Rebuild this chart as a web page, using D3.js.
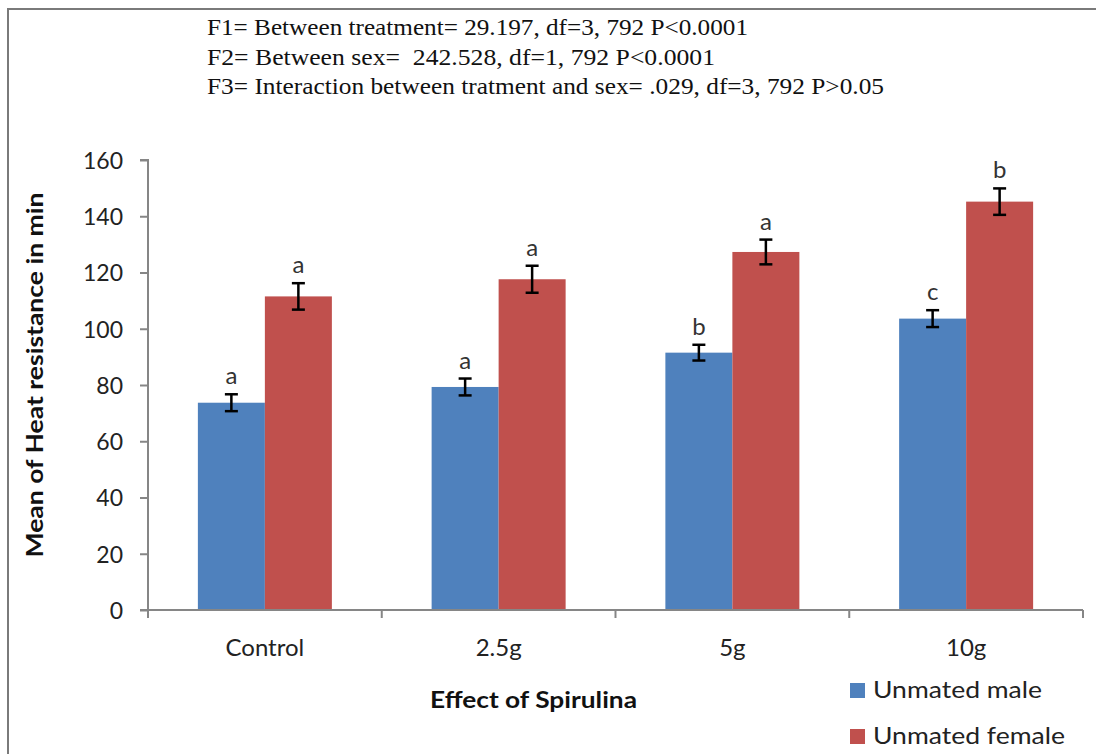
<!DOCTYPE html>
<html>
<head>
<meta charset="utf-8">
<script src="https://cdn.jsdelivr.net/npm/d3@7"></script>
<style>
  html, body { margin: 0; padding: 0; background: #fff; }
  svg { display: block; }
  .stat { white-space: pre; }
</style>
</head>
<body>
<svg id="chart" width="1096" height="754"></svg>
<script>
// ---- data ----
const categories = ["Control", "2.5g", "5g", "10g"];
const seriesNames = ["Unmated male", "Unmated female"];
const maleMeans = [73.7, 79.3, 91.5, 103.6];
const femaleMeans = [111.5, 117.6, 127.3, 145.2];
const maleErr = [3.0, 3.0, 2.8, 3.0];
const femaleErr = [4.7, 4.8, 4.4, 4.7];
const maleLetters = ["a", "a", "b", "c"];
const femaleLetters = ["a", "a", "a", "b"];
const yTicks = [0, 20, 40, 60, 80, 100, 120, 140, 160];
const statLines = [
  "F1= Between treatment= 29.197, df=3, 792 P<0.0001",
  "F2= Between sex=  242.528, df=1, 792 P<0.0001",
  "F3= Interaction between tratment and sex= .029, df=3, 792 P>0.05"
];
const statWidths = [541, 508, 677];
const colors = ["#4F81BD", "#C0504D"];

// ---- layout ----
const svg = d3.select("#chart");
const plotL = 148, plotR = 1083, plotT = 160, plotB = 610;
const sans = "Lato, 'Open Sans', sans-serif";

// border
svg.append("rect").attr("x", 8).attr("y", 9).attr("width", 1200).attr("height", 900)
  .attr("fill", "none").attr("stroke", "#7a7a7a").attr("stroke-width", 2);

// stats text
svg.append("g").selectAll("text").data(statLines).join("text")
  .attr("class", "stat")
  .attr("x", 207).attr("y", (d, i) => 35 + i * 29.5)
  .attr("font-family", "'Liberation Serif', 'Times New Roman', serif")
  .attr("font-size", 23).attr("fill", "#111")
  .attr("textLength", (d, i) => statWidths[i]).attr("lengthAdjust", "spacingAndGlyphs")
  .text(d => d);

const x = d3.scaleBand().domain(categories).range([plotL, plotR]).paddingInner(0).paddingOuter(0);
const y = d3.scaleLinear().domain([0, 160]).range([plotB, plotT]);
const barW = 67;
const xs = d3.scaleBand().domain([0, 1]).range([0, barW * 2]);

const rows = categories.map((c, i) => [
  { c, s: 0, v: maleMeans[i], e: maleErr[i], l: maleLetters[i] },
  { c, s: 1, v: femaleMeans[i], e: femaleErr[i], l: femaleLetters[i] }
]).flat();
const bx = d => x(d.c) + x.bandwidth() / 2 - barW + xs(d.s);

// bars
svg.append("g").selectAll("rect").data(rows).join("rect")
  .attr("x", bx).attr("width", barW)
  .attr("y", d => y(d.v)).attr("height", d => y(0) - y(d.v))
  .attr("fill", d => colors[d.s]);

// error bars
const eg = svg.append("g").attr("stroke", "#000").attr("stroke-width", 2.5);
rows.forEach(d => {
  const cx = bx(d) + barW / 2;
  eg.append("line").attr("x1", cx).attr("x2", cx).attr("y1", y(d.v + d.e)).attr("y2", y(d.v - d.e));
  eg.append("line").attr("x1", cx - 6.5).attr("x2", cx + 6.5).attr("y1", y(d.v + d.e)).attr("y2", y(d.v + d.e));
  eg.append("line").attr("x1", cx - 6.5).attr("x2", cx + 6.5).attr("y1", y(d.v - d.e)).attr("y2", y(d.v - d.e));
});

// letters
svg.append("g").selectAll("text").data(rows).join("text")
  .attr("x", d => bx(d) + barW / 2).attr("y", d => y(d.v + d.e) - 10)
  .attr("text-anchor", "middle").attr("font-family", sans).attr("font-size", 24).attr("fill", "#333")
  .text(d => d.l);

// y axis
const yAxis = svg.append("g").attr("transform", `translate(${plotL},0)`)
  .call(d3.axisLeft(y).tickValues(yTicks).tickSize(8).tickPadding(17));
yAxis.select(".domain").attr("stroke", "#868686").attr("stroke-width", 2).attr("d", `M-8,${plotT}H0V${plotB}`);
yAxis.selectAll(".tick line").attr("stroke", "#868686").attr("stroke-width", 2);
yAxis.selectAll(".tick text").attr("font-family", sans).attr("font-size", 23).attr("fill", "#222").attr("dy", "0.36em");

// x axis
const xAxis = svg.append("g").attr("transform", `translate(0,${plotB})`)
  .call(d3.axisBottom(x).tickSize(0).tickPadding(0));
xAxis.select(".domain").attr("stroke", "#868686").attr("stroke-width", 2).attr("d", `M${plotL - 8},0H${plotR}`);
xAxis.selectAll(".tick text").attr("font-family", sans).attr("font-size", 24).attr("fill", "#222")
  .attr("y", 46).attr("dy", 0);
const boundaries = categories.map(c => x(c)).concat([plotR]);
svg.append("g").selectAll("line").data(boundaries).join("line")
  .attr("x1", d => d).attr("x2", d => d).attr("y1", plotB).attr("y2", plotB + 8)
  .attr("stroke", "#868686").attr("stroke-width", 2);

// axis titles
svg.append("text").attr("transform", "translate(43,375) rotate(-90)")
  .attr("text-anchor", "middle").attr("font-family", sans).attr("font-weight", "bold")
  .attr("font-size", 22).attr("fill", "#111")
  .attr("textLength", 365).attr("lengthAdjust", "spacingAndGlyphs")
  .text("Mean of Heat resistance in min");
svg.append("text").attr("x", 533.5).attr("y", 708)
  .attr("text-anchor", "middle").attr("font-family", sans).attr("font-weight", "bold")
  .attr("font-size", 22).attr("fill", "#111")
  .attr("textLength", 207).attr("lengthAdjust", "spacingAndGlyphs")
  .text("Effect of Spirulina");

// legend
const legW = [169, 192];
const lg = svg.append("g").selectAll("g").data(seriesNames).join("g")
  .attr("transform", (d, i) => `translate(850,${683 + i * 46})`);
lg.append("rect").attr("width", 15).attr("height", 15).attr("fill", (d, i) => colors[i]);
lg.append("text").attr("x", 23).attr("y", 14.5)
  .attr("font-family", sans).attr("font-size", 24).attr("fill", "#222")
  .attr("textLength", (d, i) => legW[i]).attr("lengthAdjust", "spacingAndGlyphs")
  .text(d => d);
</script>
</body>
</html>
